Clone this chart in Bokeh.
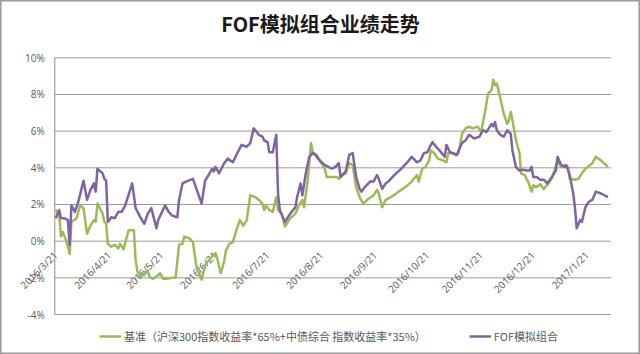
import math
import pandas as pd
from bokeh.plotting import figure
from bokeh.models import Range1d, Legend, LegendItem
from bokeh.core.properties import value
from bokeh.embed import file_html
from bokeh.resources import INLINE

title_text = "FOF模拟组合业绩走势"
bench_name = "基准（沪深300指数收益率*65%+中债综合 指数收益率*35%）"
fof_name = "FOF模拟组合"

bench_dates = [
    "2016-03-20", "2016-03-22", "2016-03-23", "2016-03-24", "2016-03-26", "2016-03-28", "2016-03-29",
    "2016-04-01", "2016-04-03", "2016-04-05", "2016-04-07", "2016-04-09", "2016-04-11", "2016-04-12",
    "2016-04-13", "2016-04-16", "2016-04-17", "2016-04-18", "2016-04-19", "2016-04-21", "2016-04-23",
    "2016-04-25", "2016-04-26", "2016-04-28", "2016-05-01", "2016-05-04", "2016-05-05", "2016-05-06",
    "2016-05-08", "2016-05-10", "2016-05-12", "2016-05-13", "2016-05-15", "2016-05-18", "2016-05-19",
    "2016-05-21", "2016-05-23", "2016-05-26", "2016-05-28", "2016-05-30", "2016-06-01", "2016-06-02",
    "2016-06-05", "2016-06-07", "2016-06-09", "2016-06-12", "2016-06-14", "2016-06-16", "2016-06-18",
    "2016-06-20", "2016-06-21", "2016-06-23", "2016-06-25", "2016-06-26", "2016-06-28", "2016-06-30",
    "2016-07-02", "2016-07-04", "2016-07-06", "2016-07-08", "2016-07-10", "2016-07-13", "2016-07-15",
    "2016-07-17", "2016-07-18", "2016-07-19", "2016-07-21", "2016-07-23", "2016-07-25", "2016-07-26",
    "2016-07-28", "2016-07-30", "2016-08-02", "2016-08-05", "2016-08-07", "2016-08-09", "2016-08-10",
    "2016-08-12", "2016-08-14", "2016-08-15", "2016-08-17", "2016-08-19", "2016-08-22", "2016-08-23",
    "2016-08-27", "2016-08-29", "2016-08-30", "2016-09-01", "2016-09-03", "2016-09-05", "2016-09-07",
    "2016-09-09", "2016-09-11", "2016-09-13", "2016-09-16", "2016-09-19", "2016-09-21", "2016-09-22",
    "2016-09-24", "2016-09-26", "2016-09-29", "2016-10-02", "2016-10-05", "2016-10-08", "2016-10-11",
    "2016-10-14", "2016-10-15", "2016-10-17", "2016-10-19", "2016-10-21", "2016-10-22", "2016-10-24",
    "2016-10-26", "2016-10-29", "2016-10-31", "2016-11-01", "2016-11-03", "2016-11-05", "2016-11-07",
    "2016-11-09", "2016-11-11", "2016-11-13", "2016-11-15", "2016-11-18", "2016-11-20", "2016-11-22",
    "2016-11-24", "2016-11-26", "2016-11-27", "2016-11-28", "2016-11-29", "2016-12-01", "2016-12-03",
    "2016-12-05", "2016-12-06", "2016-12-07", "2016-12-08", "2016-12-10", "2016-12-12", "2016-12-13",
    "2016-12-15", "2016-12-17", "2016-12-19", "2016-12-20", "2016-12-22", "2016-12-24", "2016-12-26",
    "2016-12-28", "2016-12-31", "2017-01-01", "2017-01-03", "2017-01-05", "2017-01-07", "2017-01-09",
    "2017-01-10", "2017-01-13", "2017-01-15", "2017-01-17", "2017-01-19", "2017-01-21", "2017-01-23",
    "2017-01-25", "2017-01-28", "2017-02-01",
]
bench_values = [
    1.7, 1.4, 0.25, 0.5, 0.05, -0.7, 1.05,
    1.25, 1.95, 1.8, 0.4, 0.85, 1.15, 1.05,
    2.05, 1.5, 1.05, 0.95, -0.15, -0.3, -0.2,
    -0.4, -0.15, -0.45, 0.6, 0.6, -1.05, -1.65,
    -1.95, -1.75, -1.6, -1.95, -2.05, -1.85, -1.75,
    -2.05, -2.05, -2.0, -2.0, -0.2, -0.15, 0.25,
    0.15, -0.05, -1.4, -2.1, -1.3, -1.05, -0.85,
    -0.65, -0.95, -1.75, -1.1, -0.5, -0.15, -0.05,
    0.6, 1.15, 0.85, 1.15, 2.5, 2.4, 2.25,
    2.05, 1.7, 1.95, 1.7, 1.6, 2.4, 1.7,
    1.5, 0.8, 1.25, 1.5, 1.95, 2.25, 1.85,
    3.25, 5.35, 4.85, 4.6, 4.4, 3.95, 3.5,
    3.5, 3.5, 3.4, 3.6, 3.7, 4.25, 4.15,
    2.95, 2.4, 2.05, 2.3, 2.5, 2.8, 2.6,
    1.85, 2.25, 2.4, 2.6, 2.8, 3.0, 3.25,
    3.6, 3.25, 3.95, 4.05, 4.4, 4.95, 4.8,
    4.5, 4.4, 4.3, 4.8, 4.8, 4.7, 4.8,
    5.85, 6.15, 6.25, 6.15, 6.25, 5.95, 6.95,
    8.05, 8.25, 8.8, 8.5, 8.6, 7.8, 6.95,
    6.4, 6.6, 7.05, 6.6, 5.5, 4.85, 3.7,
    3.6, 3.25, 2.7, 3.05, 2.95, 3.1, 2.85,
    3.05, 3.5, 3.8, 4.4, 4.05, 4.15, 4.05,
    3.4, 3.35, 3.4, 3.7, 3.95, 4.1, 4.25,
    4.6, 4.4, 4.05,
]

fof_dates = [
    "2016-03-20", "2016-03-22", "2016-03-23", "2016-03-25", "2016-03-27", "2016-03-28", "2016-03-29",
    "2016-03-31", "2016-04-02", "2016-04-05", "2016-04-07", "2016-04-09", "2016-04-11", "2016-04-12",
    "2016-04-13", "2016-04-16", "2016-04-17", "2016-04-18", "2016-04-19", "2016-04-21", "2016-04-23",
    "2016-04-25", "2016-04-27", "2016-04-29", "2016-05-03", "2016-05-05", "2016-05-08", "2016-05-10",
    "2016-05-12", "2016-05-14", "2016-05-17", "2016-05-18", "2016-05-22", "2016-05-24", "2016-05-26",
    "2016-05-29", "2016-05-30", "2016-06-01", "2016-06-03", "2016-06-07", "2016-06-12", "2016-06-14",
    "2016-06-16", "2016-06-18", "2016-06-19", "2016-06-20", "2016-06-22", "2016-06-25", "2016-06-27",
    "2016-06-30", "2016-07-02", "2016-07-05", "2016-07-08", "2016-07-10", "2016-07-12", "2016-07-15",
    "2016-07-17", "2016-07-18", "2016-07-20", "2016-07-21", "2016-07-23", "2016-07-25", "2016-07-26",
    "2016-07-27", "2016-07-30", "2016-08-02", "2016-08-05", "2016-08-06", "2016-08-08", "2016-08-09",
    "2016-08-11", "2016-08-13", "2016-08-15", "2016-08-17", "2016-08-19", "2016-08-22", "2016-08-24",
    "2016-08-26", "2016-08-28", "2016-08-30", "2016-08-31", "2016-09-01", "2016-09-03", "2016-09-05",
    "2016-09-07", "2016-09-09", "2016-09-11", "2016-09-12", "2016-09-14", "2016-09-17", "2016-09-19",
    "2016-09-21", "2016-09-22", "2016-09-24", "2016-09-26", "2016-09-28", "2016-09-30", "2016-10-02",
    "2016-10-05", "2016-10-08", "2016-10-11", "2016-10-14", "2016-10-16", "2016-10-18", "2016-10-20",
    "2016-10-22", "2016-10-23", "2016-10-25", "2016-10-27", "2016-10-30", "2016-10-31", "2016-11-02",
    "2016-11-04", "2016-11-06", "2016-11-07", "2016-11-09", "2016-11-11", "2016-11-13", "2016-11-16",
    "2016-11-19", "2016-11-21", "2016-11-23", "2016-11-25", "2016-11-26", "2016-11-27", "2016-11-28",
    "2016-11-29", "2016-12-01", "2016-12-03", "2016-12-05", "2016-12-07", "2016-12-08", "2016-12-10",
    "2016-12-12", "2016-12-14", "2016-12-16", "2016-12-18", "2016-12-19", "2016-12-20", "2016-12-22",
    "2016-12-24", "2016-12-26", "2016-12-28", "2016-12-30", "2017-01-01", "2017-01-02", "2017-01-03",
    "2017-01-05", "2017-01-07", "2017-01-08", "2017-01-10", "2017-01-12", "2017-01-13", "2017-01-14",
    "2017-01-16", "2017-01-17", "2017-01-19", "2017-01-21", "2017-01-23", "2017-01-25", "2017-01-28",
    "2017-02-01",
]
fof_values = [
    1.25, 1.7, 1.25, 1.25, 1.15, -0.2, 1.95,
    1.6, 2.15, 3.3, 2.25, 2.8, 3.15, 2.7,
    3.95, 3.7, 3.4, 3.3, 1.05, 1.3, 1.25,
    1.6, 1.6, 1.95, 3.15, 1.8, 1.25, 0.95,
    1.5, 1.8, 0.7, 1.15, 1.95, 1.6, 1.4,
    1.3, 2.25, 3.15, 3.25, 3.4, 2.05, 3.3,
    3.6, 3.95, 3.8, 4.05, 3.7, 4.25, 4.5,
    4.3, 4.7, 5.25, 5.15, 5.35, 6.15, 5.8,
    5.7, 5.5, 5.4, 4.85, 4.85, 5.8, 2.6,
    1.7, 1.05, 1.5, 1.85, 2.4, 3.15, 2.5,
    3.7, 4.6, 4.8, 4.7, 4.4, 4.15, 4.05,
    3.95, 4.05, 4.25, 3.5, 3.6, 3.8, 4.7,
    4.8, 3.5, 2.85, 2.7, 2.95, 3.25, 3.25,
    3.6, 3.4, 2.85, 3.15, 3.3, 3.5, 3.7,
    3.95, 4.25, 4.6, 4.3, 4.4, 4.8, 4.85,
    5.25, 5.4, 5.15, 4.95, 4.6, 5.25, 4.85,
    4.8, 4.7, 4.95, 5.35, 5.5, 5.8, 5.6,
    5.7, 6.05, 5.95, 6.25, 6.4, 6.25, 6.5,
    6.05, 5.8, 5.7, 6.05, 5.85, 4.95, 4.05,
    3.85, 3.9, 3.85, 3.85, 4.05, 3.5, 3.5,
    3.35, 3.35, 3.15, 3.4, 3.7, 3.85, 4.6,
    4.15, 4.05, 4.15, 3.6, 2.6, 1.85, 0.7,
    1.15, 1.05, 1.85, 2.15, 2.25, 2.7, 2.6,
    2.4,
]

tick_dates = ["2016-03-21", "2016-04-21", "2016-05-21", "2016-06-21", "2016-07-21", "2016-08-21",
              "2016-09-21", "2016-10-21", "2016-11-21", "2016-12-21", "2017-01-21"]
tick_labels = ["2016/3/21", "2016/4/21", "2016/5/21", "2016/6/21", "2016/7/21", "2016/8/21",
               "2016/9/21", "2016/10/21", "2016/11/21", "2016/12/21", "2017/1/21"]
y_ticks = [-4, -2, 0, 2, 4, 6, 8, 10]
y_tick_labels = ["-4%", "-2%", "0%", "2%", "4%", "6%", "8%", "10%"]

GREEN = "#9BBB59"
PURPLE = "#8064A2"
LABEL = "#595959"
GRID = "#9c9c9c"

# ---- layout: pixel box of the plot area inside the 640x354 canvas ----
W, H = 640, 354
PLOT_L, PLOT_R, PLOT_T, PLOT_B = 54.3, 610.7, 57.3, 314.0
x_left = pd.Timestamp("2016-03-19 10:40")   # left edge of plot area
x_right = pd.Timestamp("2017-02-02 21:00")  # right edge of plot area
y_bottom, y_top = y_ticks[0], y_ticks[-1]

t_per_px = (x_right - x_left) / (PLOT_R - PLOT_L)
v_per_px = (y_top - y_bottom) / (PLOT_B - PLOT_T)
x_start = x_left - t_per_px * PLOT_L
x_end = x_right + t_per_px * (W - PLOT_R)
y_start = y_bottom - v_per_px * (H - PLOT_B)
y_end = y_top + v_per_px * PLOT_T

p = figure(width=W, height=H, output_backend="svg", toolbar_location=None, title=None,
           x_axis_location=None, y_axis_location=None,
           x_range=Range1d(start=x_start, end=x_end),
           y_range=Range1d(start=y_start, end=y_end),
           min_border=0)
p.grid.visible = False
p.background_fill_color = "white"
p.border_fill_color = "white"
p.outline_line_color = "#9a9a9a"
p.outline_line_width = 2

# horizontal gridlines and vertical axis line of the plot area
n = len(y_ticks)
p.segment(x0=[x_left] * n, y0=y_ticks, x1=[x_right] * n, y1=y_ticks,
          line_color=GRID, line_width=1)
p.segment(x0=[x_left], y0=[y_bottom], x1=[x_left], y1=[y_top], line_color="#8c8c8c", line_width=1)

# y tick labels
p.text(x=[x_left] * n, y=y_ticks, text=y_tick_labels, text_align="right", text_baseline="middle",
       x_offset=-10, text_font=value("Open Sans"), text_font_size="10px", text_color=LABEL)

# date labels hanging from the 0% axis line
p.text(x=pd.to_datetime(tick_dates), y=[0] * len(tick_dates), text=tick_labels,
       angle=math.pi / 4, text_align="right", text_baseline="middle",
       x_offset=-2, y_offset=12,
       text_font=value("Open Sans"), text_font_size="10px", text_color=LABEL)

r_bench = p.line(pd.to_datetime(bench_dates), bench_values, line_color=GREEN, line_width=2.5,
                 line_join="round")
r_fof = p.line(pd.to_datetime(fof_dates), fof_values, line_color=PURPLE, line_width=2.5,
               line_join="round")

# chart title, centred over the canvas
p.text(x=[x_start + t_per_px * (W / 2)], y=[y_end - v_per_px * 23], text=[title_text],
       text_align="center", text_baseline="middle",
       text_font=value("Noto Sans CJK SC"), text_font_size="20px", text_font_style="bold",
       text_color="#1a1a1a")

legend = Legend(items=[LegendItem(label=bench_name, renderers=[r_bench]),
                       LegendItem(label=fof_name, renderers=[r_fof])],
                orientation="horizontal", location=(99, 10),
                label_text_font="Noto Sans CJK SC", label_text_font_size="11px",
                label_text_color=LABEL, glyph_width=22, glyph_height=12,
                label_height=14, label_standoff=3, spacing=43,
                border_line_color=None, background_fill_alpha=0,
                margin=0, padding=0)
p.add_layout(legend, "center")

open("out.html", "w").write(file_html(p, INLINE))
